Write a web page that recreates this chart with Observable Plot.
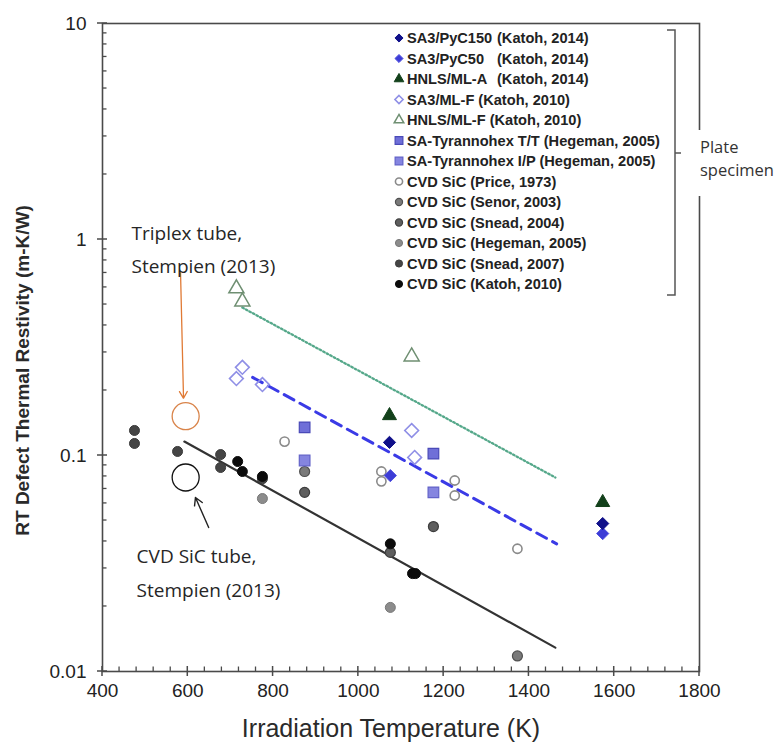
<!DOCTYPE html>
<html><head><meta charset="utf-8">
<script src="https://cdn.jsdelivr.net/npm/d3@7"></script>
<script src="https://cdn.jsdelivr.net/npm/@observablehq/plot@0.6"></script>
<style>
body{margin:0;background:#fff;}
#chart{width:783px;height:743px;}
</style></head><body><div id="chart"></div>
<script>
// ---------- data ----------
const seriesLabels = [
  "SA3/PyC150 (Katoh, 2014)",
  "SA3/PyC50 (Katoh, 2014)",
  "HNLS/ML-A (Katoh, 2014)",
  "SA3/ML-F (Katoh, 2010)",
  "HNLS/ML-F (Katoh, 2010)",
  "SA-Tyrannohex T/T (Hegeman, 2005)",
  "SA-Tyrannohex I/P (Hegeman, 2005)",
  "CVD SiC (Price, 1973)",
  "CVD SiC (Senor, 2003)",
  "CVD SiC (Snead, 2004)",
  "CVD SiC (Hegeman, 2005)",
  "CVD SiC (Snead, 2007)",
  "CVD SiC (Katoh, 2010)"
];
// [irradiation temperature K, RT defect thermal resistivity m-K/W]
const SA3_PyC150   = [[1073, 0.115], [1573, 0.0484]];
const SA3_PyC50    = [[1075, 0.0807], [1573, 0.0435]];
const HNLS_ML_A    = [[1073, 0.153], [1573, 0.0606]];
const SA3_ML_F     = [[714, 0.227], [728, 0.256], [775, 0.213], [1125, 0.1306], [1132, 0.098]];
const HNLS_ML_F    = [[714, 0.593], [728, 0.516], [1125, 0.287]];
const Tyranno_TT   = [[874, 0.135], [1176, 0.102]];
const Tyranno_IP   = [[874, 0.0948], [1176, 0.0675]];
const CVD_Price    = [[827, 0.116], [1054, 0.0843], [1054, 0.0759], [1226, 0.0766], [1226, 0.0653], [1373, 0.037]];
const CVD_Senor    = [[874, 0.0843], [1373, 0.0118]];
const CVD_Snead04  = [[874, 0.0675], [1176, 0.0469], [1075, 0.0356]];
const CVD_Hegeman  = [[775, 0.0632], [1075, 0.0198]];
const CVD_Snead07  = [[475, 0.1306], [475, 0.1137], [576, 0.1044], [677, 0.101], [677, 0.088], [775, 0.078]];
const CVD_Katoh10  = [[717, 0.0938], [728, 0.0843], [775, 0.080], [1075, 0.039], [1127, 0.0284], [1134, 0.0284]];

const fitHNLS = [[728, 0.484], [1462, 0.0791]];
const fitSA3  = [[752, 0.23], [1465, 0.039]];
const fitCVD  = [[592, 0.116], [1462, 0.0129]];

const stempienTriplex = [[595, 0.152]];
const stempienCVD     = [[595, 0.0791]];

const noteTriplex = ["Triplex tube,", "Stempien (2013)"];
const noteCVD     = ["CVD SiC tube,", "Stempien (2013)"];
const noteTriplexAt = [[468, 1.066], [468, 0.75]];
const noteCVDAt     = [[480, 0.0341], [480, 0.0237]];
const arrowTriplex = [[583, 0.703, 590, 0.184]];
const arrowCVD     = [[649, 0.0464, 618, 0.0639]];

const xTicks = [400, 600, 800, 1000, 1200, 1400, 1600, 1800];
const xTickLabels = ["400", "600", "800", "1000", "1200", "1400", "1600", "1800"];
const yTicks = [0.01, 0.1, 1, 10];
const yTickLabels = ["0.01", "0.1", "1", "10"];
const xTitle = "Irradiation Temperature (K)";
const yTitle = "RT Defect Thermal Restivity (m-K/W)";
const bracketLabel = ["Plate", "specimen"];

// ---------- styles ----------
const seriesData = [SA3_PyC150, SA3_PyC50, HNLS_ML_A, SA3_ML_F, HNLS_ML_F, Tyranno_TT, Tyranno_IP,
  CVD_Price, CVD_Senor, CVD_Snead04, CVD_Hegeman, CVD_Snead07, CVD_Katoh10];
const styles = [
  {symbol: "diamond2", fill: "#10108a", stroke: "#10108a", r: 5.5, sw: 1},
  {symbol: "diamond2", fill: "#3d3dd6", stroke: "#5050e0", r: 5.5, sw: 1},
  {symbol: "triangle", fill: "#12401a", stroke: "#12401a", r: 5.2, sw: 1},
  {symbol: "diamond2", fill: "none", stroke: "#8f8fe6", r: 6.2, sw: 1.6},
  {symbol: "triangle", fill: "none", stroke: "#6f8f72", r: 5.6, sw: 1.5},
  {symbol: "square", fill: "#6f6fd8", stroke: "#4a4ab8", r: 6, sw: 1.2},
  {symbol: "square", fill: "#8585e0", stroke: "#6262c8", r: 6, sw: 1.2},
  {symbol: "circle", fill: "white", stroke: "#8a8a8a", r: 4.6, sw: 1.6},
  {symbol: "circle", fill: "#7a7a7a", stroke: "#505050", r: 5, sw: 1.2},
  {symbol: "circle", fill: "#5e5e5e", stroke: "#3e3e3e", r: 5, sw: 1.2},
  {symbol: "circle", fill: "#8c8c8c", stroke: "#777", r: 5, sw: 1},
  {symbol: "circle", fill: "#454545", stroke: "#3a3a3a", r: 5, sw: 1},
  {symbol: "circle", fill: "#0b0b0b", stroke: "#0b0b0b", r: 5, sw: 1}
];
const drawOrder = [7, 8, 9, 10, 11, 12, 5, 6, 4, 3, 2, 1, 0];

const xMinor = d3.range(400, 1800, 40).filter(v => !xTicks.includes(v));
const yMinor = [0.01, 0.1, 1].flatMap(d => d3.range(2, 10).map(k => +(d * k).toPrecision(3)));

const W = 783, H = 743, mL = 102, mR = 84, mT = 23, mB = 72;

const marks = [
  Plot.frame({stroke: "#4a4a4a", strokeWidth: 1.6}),
  Plot.axisX({ticks: xTicks, tickSize: 0, tickPadding: 12, tickFormat: d => xTickLabels[xTicks.indexOf(d)], label: null, fontSize: 19, fill: "#222"}),
  Plot.axisY({ticks: yTicks, tickSize: 0, tickPadding: 16, tickFormat: d => yTickLabels[yTicks.indexOf(d)], label: null, fontSize: 19, fill: "#222"}),
  Plot.text([xTitle], {frameAnchor: "bottom", text: d => d, dy: 57, dx: -10, fontSize: 25, fill: "#2a2a2a", textAnchor: "middle", lineAnchor: "middle"}),
  Plot.text([yTitle], {frameAnchor: "left", text: d => d, rotate: -90, dx: -80, dy: 23, fontSize: 19, fontWeight: "bold", fill: "#2a2a2a", textAnchor: "middle", lineAnchor: "middle"}),
  Plot.line(fitHNLS, {x: d => d[0], y: d => d[1], stroke: "#55a88a", strokeWidth: 2.3, strokeDasharray: "1.6,2.4"}),
  Plot.line(fitSA3, {x: d => d[0], y: d => d[1], stroke: "#3a3ae6", strokeWidth: 3, strokeDasharray: "11,7"}),
  Plot.line(fitCVD, {x: d => d[0], y: d => d[1], stroke: "#333", strokeWidth: 2.2}),
  ...drawOrder.map(i => Plot.dot(seriesData[i], {x: d => d[0], y: d => d[1], symbol: styles[i].symbol,
      fill: styles[i].fill, stroke: styles[i].stroke, r: styles[i].r, strokeWidth: styles[i].sw})),
  Plot.dot(stempienTriplex, {x: d => d[0], y: d => d[1], r: 13.5, stroke: "#d9844a", strokeWidth: 1.3, fill: "none"}),
  Plot.dot(stempienCVD, {x: d => d[0], y: d => d[1], r: 13.5, stroke: "#111", strokeWidth: 1.3, fill: "none"}),
  Plot.arrow(arrowTriplex, {x1: d => d[0], y1: d => d[1], x2: d => d[2], y2: d => d[3], stroke: "#e07a35", strokeWidth: 1.3, headLength: 9}),
  Plot.arrow(arrowCVD, {x1: d => d[0], y1: d => d[1], x2: d => d[2], y2: d => d[3], stroke: "#222", strokeWidth: 1.4, headLength: 9}),
  Plot.text(noteTriplex, {x: (d, i) => noteTriplexAt[i][0], y: (d, i) => noteTriplexAt[i][1], text: d => d, textAnchor: "start", lineAnchor: "middle", fontFamily: "Open Sans", fontSize: 19, fill: "#262626"}),
  Plot.text(noteCVD, {x: (d, i) => noteCVDAt[i][0], y: (d, i) => noteCVDAt[i][1], text: d => d, textAnchor: "start", lineAnchor: "middle", fontFamily: "Open Sans", fontSize: 19, fill: "#262626"})
];

const chart = Plot.plot({
  width: W, height: H,
  marginLeft: mL, marginRight: mR, marginTop: mT, marginBottom: mB,
  x: {domain: [400, 1800]},
  y: {type: "log", domain: [0.01, 10]},
  style: {fontFamily: "'Liberation Sans', Arial, sans-serif", fontSize: "19px", background: "white", color: "#222"},
  marks
});
document.getElementById("chart").appendChild(chart);

// ---------- ticks, legend, bracket and note (overlay) ----------
const svg = d3.select(chart);
const sx = chart.scale("x"), sy = chart.scale("y");
const x0 = mL, y0 = H - mB;
const tg = svg.append("g").attr("stroke", "#4a4a4a").attr("fill", "none");
xTicks.forEach(v => tg.append("line").attr("x1", sx.apply(v)).attr("x2", sx.apply(v)).attr("y1", y0 - 5).attr("y2", y0 + 5).attr("stroke-width", 1.5));
xMinor.forEach(v => tg.append("line").attr("x1", sx.apply(v)).attr("x2", sx.apply(v)).attr("y1", y0 - 4.5).attr("y2", y0).attr("stroke-width", 1.3));
yTicks.forEach(v => tg.append("line").attr("y1", sy.apply(v)).attr("y2", sy.apply(v)).attr("x1", x0 - 5).attr("x2", x0 + 5).attr("stroke-width", 1.5));
yMinor.forEach(v => tg.append("line").attr("y1", sy.apply(v)).attr("y2", sy.apply(v)).attr("x1", x0).attr("x2", x0 + 4.5).attr("stroke-width", 1.3));

const symbolTypes = {diamond2: d3.symbolDiamond2, triangle: d3.symbolTriangle, square: d3.symbolSquare, circle: d3.symbolCircle};
const legendSize = {diamond2: 42, triangle: 40, square: 60, circle: 40};
const lg = svg.append("g").attr("font-family", "'Liberation Sans', Arial, sans-serif").attr("font-weight", "bold")
  .attr("font-size", 14.6).attr("fill", "#222").attr("text-anchor", "start");
seriesLabels.forEach((lab, i) => {
  const y = 38 + i * 20.5;
  const st = styles[i];
  lg.append("path").attr("transform", `translate(399,${y})`)
    .attr("d", d3.symbol(symbolTypes[st.symbol], legendSize[st.symbol])())
    .attr("fill", st.fill).attr("stroke", st.stroke).attr("stroke-width", st.sw);
  if (i < 3) {
    const k = lab.indexOf(" (");
    lg.append("text").attr("x", 407).attr("y", y).attr("dy", "0.36em").text(lab.slice(0, k));
    lg.append("text").attr("x", 497).attr("y", y).attr("dy", "0.36em").text(lab.slice(k + 1));
  } else {
    lg.append("text").attr("x", 407).attr("y", y).attr("dy", "0.36em").text(lab);
  }
});
svg.append("path").attr("d", "M667,30H675V295H667M675,153H681").attr("fill", "none").attr("stroke", "#555").attr("stroke-width", 1.5);
svg.append("rect").attr("x", 692).attr("y", 130).attr("width", 91).attr("height", 66).attr("fill", "white");
const note = svg.append("g").attr("font-family", "'Open Sans', sans-serif").attr("font-size", 16.5).attr("fill", "#333").attr("text-anchor", "start");
bracketLabel.forEach((t, i) => note.append("text").attr("x", 700).attr("y", 147 + i * 23).attr("dy", "0.35em").text(t));
</script>
</body></html>
